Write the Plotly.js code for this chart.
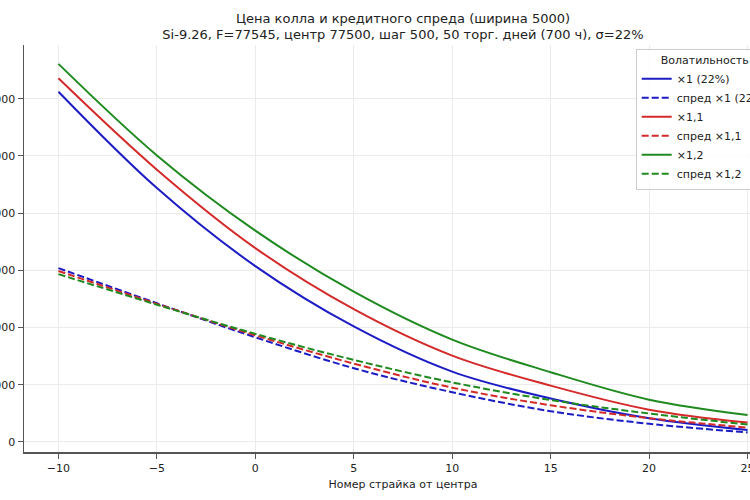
<!DOCTYPE html>
<html>
<head>
<meta charset="utf-8">
<script src="https://cdn.plot.ly/plotly-3.0.1.min.js"></script>
<style>
  html, body { margin: 0; padding: 0; overflow: hidden; background: #fff; }
  #chart { position: absolute; left: -60px; top: 0; width: 850px; height: 500px; }
</style>
</head>
<body>
<div id="chart"></div>
<script>
// strike offset from the centre strike
var strikes = [-10, -5, 0, 5, 10, 15, 20, 25];

// call price, three volatility levels
var call_x1  = [6124, 4440, 3075, 2020, 1230, 760, 415, 210];
var call_x11 = [6358, 4760, 3390, 2322, 1510, 985, 565, 340];
var call_x12 = [6610, 5010, 3695, 2628, 1790, 1220, 740, 472];

// credit spread (width 5000), same volatility levels
var spread_x1  = [3040, 2425, 1830, 1290, 870, 538, 318, 168];
var spread_x11 = [2990, 2415, 1865, 1370, 950, 642, 417, 252];
var spread_x12 = [2935, 2400, 1890, 1435, 1042, 734, 498, 305];

var names = ['×1 (22%)', 'спред ×1 (22%)', '×1,1', 'спред ×1,1', '×1,2', 'спред ×1,2'];
var colors = ['#1c1cc4', '#d42a2a', '#1f8a1f'];

function make_trace(y, name, color, dashed) {
    return {
        x: strikes,
        y: y,
        type: 'scatter',
        mode: 'lines',
        name: name,
        line: {
            color: color,
            width: 2,
            shape: 'spline',
            dash: dashed ? '7px,3px' : 'solid'
        }
    };
}

var data = [
    make_trace(call_x1, names[0], colors[0], false),
    make_trace(spread_x1, names[1], colors[0], true),
    make_trace(call_x11, names[2], colors[1], false),
    make_trace(spread_x11, names[3], colors[1], true),
    make_trace(call_x12, names[4], colors[2], false),
    make_trace(spread_x12, names[5], colors[2], true)
];

var layout = {
    width: 850,
    height: 500,
    paper_bgcolor: '#fff',
    plot_bgcolor: '#fff',
    font: { family: 'DejaVu Sans', size: 11, color: '#222' },
    margin: { l: 84, r: 8, t: 45, b: 48 },
    title: {
        text: 'Цена колла и кредитного спреда (ширина 5000)<br>Si-9.26, F=77545, центр 77500, шаг 500, 50 торг. дней (700 ч), σ=22%',
        font: { family: 'DejaVu Sans', size: 13, color: '#222' },
        x: 0.5,
        xref: 'paper',
        y: 0.955,
        yref: 'container',
        yanchor: 'top'
    },
    showlegend: true,
    legend: {
        x: 0.807,
        y: 0.99,
        xanchor: 'left',
        yanchor: 'top',
        bgcolor: 'rgba(255,255,255,0.85)',
        bordercolor: '#cccccc',
        borderwidth: 1,
        font: { family: 'DejaVu Sans', size: 11, color: '#222' },
        title: { text: 'Волатильность', side: 'top center', font: { size: 11 } },
        tracegroupgap: 0
    },
    xaxis: {
        range: [-11.75, 26.75],
        tickvals: [-10, -5, 0, 5, 10, 15, 20, 25],
        ticks: 'outside',
        ticklen: 5,
        tickcolor: '#555',
        showline: true,
        linecolor: '#555',
        linewidth: 1.5,
        showgrid: true,
        gridcolor: '#ebebeb',
        zeroline: false,
        title: { text: 'Номер страйка от центра', font: { size: 11 }, standoff: 6 }
    },
    yaxis: {
        range: [-175, 6940],
        tickvals: [0, 1000, 2000, 3000, 4000, 5000, 6000],
        tickformat: 'd',
        ticks: 'outside',
        ticklen: 5,
        tickcolor: '#555',
        showline: true,
        linecolor: '#555',
        linewidth: 1.5,
        showgrid: true,
        gridcolor: '#ebebeb',
        zeroline: false
    }
};

Plotly.newPlot('chart', data, layout, { displayModeBar: false, staticPlot: true });
</script>
</body>
</html>
